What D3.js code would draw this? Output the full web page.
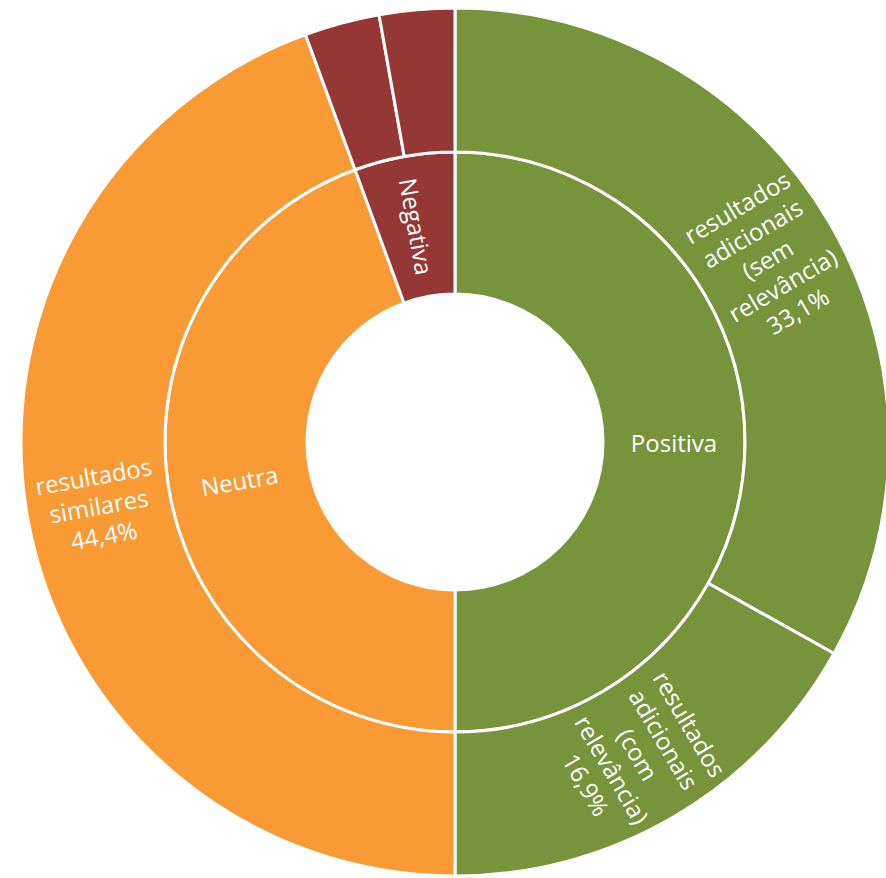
<!DOCTYPE html>
<html>
<head>
<meta charset="utf-8">
<script src="https://cdn.jsdelivr.net/npm/d3@7"></script>
<style>
  html, body { margin: 0; padding: 0; background: #ffffff; }
  svg { display: block; }
</style>
</head>
<body>
<svg id="chart" width="886" height="878"></svg>
<script>
// Inner ring: sentiment groups
const groups = ["Positiva", "Neutra", "Negativa"];
const groupColors = ["#77933C", "#F99A34", "#953735"];

// Outer ring: result types (value in %), each belongs to a group
const itemGroup = ["Positiva", "Positiva", "Neutra", "Negativa", "Negativa"];
const itemValues = [33.1, 16.9, 44.4, 2.8, 2.8];
const itemLines = [
  ["resultados", "adicionais", "(sem", "relevância)"],
  ["resultados", "adicionais", "(com", "relevância)"],
  ["resultados", "similares"],
  [],
  []
];
const itemShowValue = [true, true, true, false, false];

const width = 886, height = 878;
const cx = 455, cy = 442;
const rHole = 148, rMid = 290, rOuter = 434;
const lineH = 30;

// Build hierarchy
const root = d3.hierarchy({
  name: "root",
  children: groups.map((g, gi) => ({
    name: g,
    gi,
    children: itemValues.map((v, i) => ({ name: "i" + i, idx: i, value: v, group: itemGroup[i] }))
      .filter(c => c.group === g)
  }))
}).sum(d => d.value || 0);

d3.partition().size([2 * Math.PI, 3])(root);

const radius = d3.scaleLinear().domain([1, 2, 3]).range([rHole, rMid, rOuter]);

const arc = d3.arc()
  .startAngle(d => d.x0)
  .endAngle(d => d.x1)
  .innerRadius(d => radius(d.y0))
  .outerRadius(d => radius(d.y1));

const svg = d3.select("#chart");
const g = svg.append("g").attr("transform", `translate(${cx},${cy})`);

const nodes = root.descendants().filter(d => d.depth > 0);
const colorOf = d => groupColors[d.depth === 1 ? d.data.gi : d.parent.data.gi];

g.selectAll("path.seg")
  .data(nodes)
  .join("path")
  .attr("class", "seg")
  .attr("d", arc)
  .attr("fill", colorOf)
  .attr("stroke", "#ffffff")
  .attr("stroke-width", 3)
  .attr("stroke-linejoin", "miter");

const fmt = v => d3.format(".1f")(v).replace(".", ",") + "%";

function labelLines(d) {
  if (d.depth === 1) return [d.data.name];
  const i = d.data.idx;
  const lines = itemLines[i].slice();
  if (itemShowValue[i]) lines.push(fmt(itemValues[i]));
  return lines;
}

const labels = g.selectAll("g.lbl")
  .data(nodes.filter(d => labelLines(d).length > 0))
  .join("g")
  .attr("class", "lbl")
  .attr("transform", d => {
    const a = (d.x0 + d.x1) / 2;
    const r = (radius(d.y0) + radius(d.y1)) / 2;
    const x = r * Math.sin(a), y = -r * Math.cos(a);
    let rot = a * 180 / Math.PI - 90;
    if (rot > 90) rot -= 180;
    return `translate(${x},${y}) rotate(${rot})`;
  });

labels.each(function(d) {
  const lines = labelLines(d);
  const n = lines.length;
  d3.select(this).selectAll("text")
    .data(lines)
    .join("text")
    .attr("x", 0)
    .attr("y", (t, i) => (i - (n - 1) / 2) * lineH)
    .attr("text-anchor", "middle")
    .attr("dominant-baseline", "central")
    .attr("font-family", "'Open Sans', sans-serif")
    .attr("font-size", 24)
    .attr("fill", "#ffffff")
    .text(t => t);
});
</script>
</body>
</html>
